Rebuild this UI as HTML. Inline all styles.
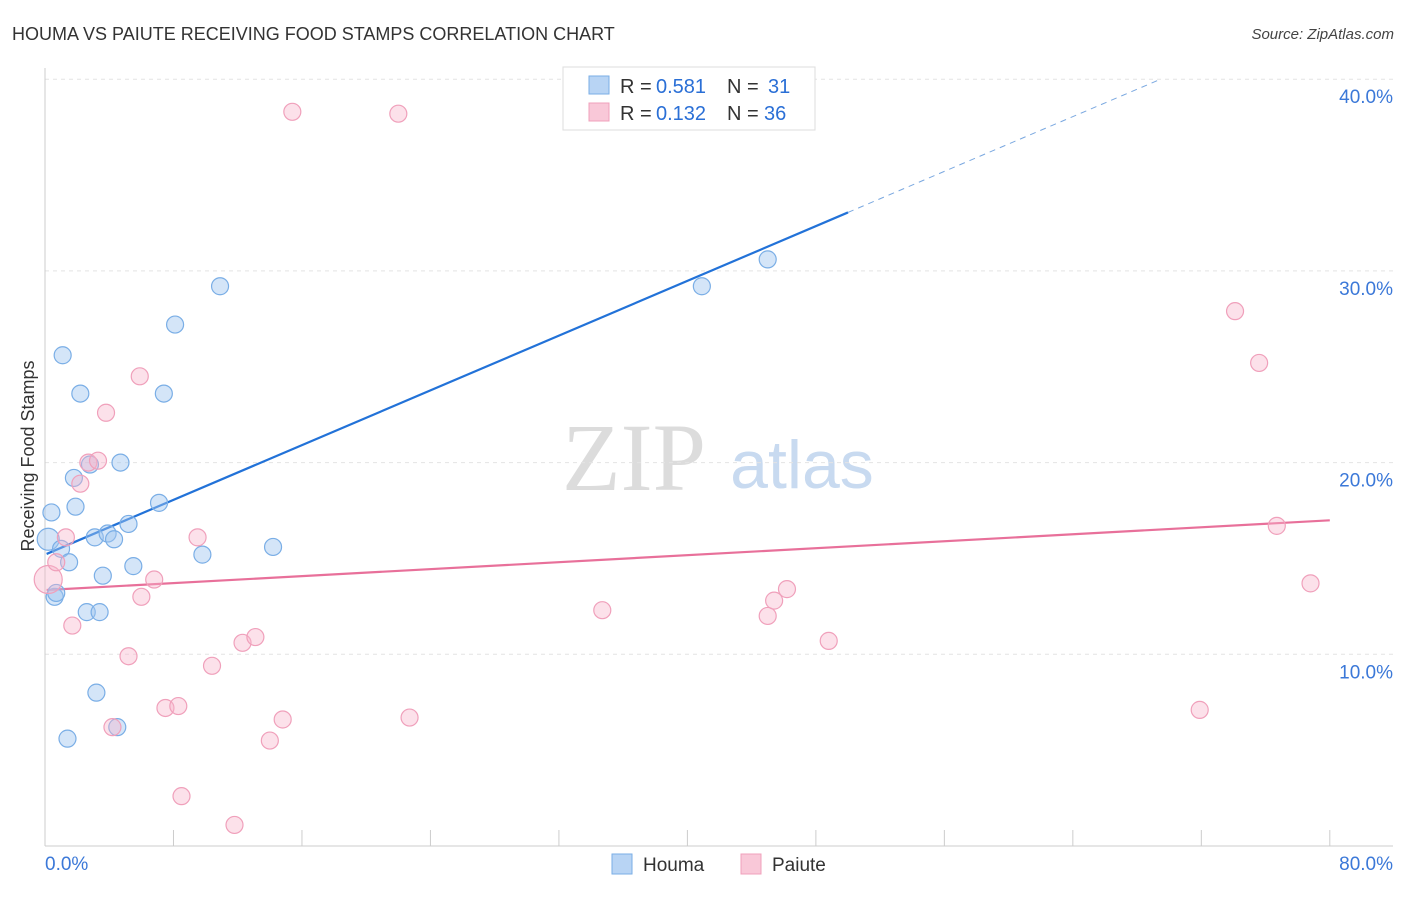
<!DOCTYPE html>
<html><head><meta charset="utf-8"><style>
body{margin:0;background:#fff;font-family:"Liberation Sans",sans-serif}
</style></head><body>
<svg width="1406" height="892" id="chart" font-family="Liberation Sans, sans-serif">
<text x="12" y="40" font-size="18" fill="#333">HOUMA VS PAIUTE RECEIVING FOOD STAMPS CORRELATION CHART</text>
<text x="1394" y="39" font-size="15" fill="#444" font-style="italic" text-anchor="end">Source: ZipAtlas.com</text>
<text x="634" y="490" font-size="96" fill="#dcdcdc" style="font-family:'Liberation Serif',serif" text-anchor="middle">ZIP</text>
<text x="802" y="488" font-size="68" fill="#c8daf0" text-anchor="middle">atlas</text>
<text transform="translate(34,456) rotate(-90)" font-size="18" fill="#333" text-anchor="middle">Receiving Food Stamps</text>
<g id="grid"></g><g id="axes"></g><g id="lines"></g><g id="pts"></g>
<g>
<rect x="563" y="67" width="252" height="63" fill="#fff" stroke="#ddd"/>
<rect x="589" y="76" width="20" height="18" fill="#b8d4f4" stroke="#7aaee6"/>
<rect x="589" y="103" width="20" height="18" fill="#f9c8d8" stroke="#f0a0bb"/>
<text x="620" y="93" font-size="20" fill="#333">R =</text>
<text x="656" y="93" font-size="20" fill="#2a6fd6">0.581</text>
<text x="727" y="93" font-size="20" fill="#333">N =</text>
<text x="768" y="93" font-size="20" fill="#2a6fd6">31</text>
<text x="620" y="120" font-size="20" fill="#333">R =</text>
<text x="656" y="120" font-size="20" fill="#2a6fd6">0.132</text>
<text x="727" y="120" font-size="20" fill="#333">N =</text>
<text x="764" y="120" font-size="20" fill="#2a6fd6">36</text>
</g>
<g>
<rect x="612" y="854" width="20" height="20" fill="#b8d4f4" stroke="#7aaee6"/>
<text x="643" y="871" font-size="19" fill="#333">Houma</text>
<rect x="741" y="854" width="20" height="20" fill="#f9c8d8" stroke="#f0a0bb"/>
<text x="772" y="871" font-size="19" fill="#333">Paiute</text>
</g>
</svg>
<script>
const yTicks=[10,20,30,40];
const yTickLabels=["10.0%","20.0%","30.0%","40.0%"];
const houmaX=[0.2,0.4,1.1,2.2,1.8,1.9,1.0,1.5,0.6,0.7,2.8,4.7,3.1,3.9,4.3,5.2,7.1,7.4,8.1,10.9,3.6,5.5,2.6,3.4,9.8,14.2,3.2,1.4,4.5,40.9,45.0];
const houmaY=[16.0,17.4,25.6,23.6,19.2,17.7,15.5,14.8,13.0,13.2,19.9,20.0,16.1,16.3,16.0,16.8,17.9,23.6,27.2,29.2,14.1,14.6,12.2,12.2,15.2,15.6,8.0,5.6,6.2,29.2,30.6];
const paiuteX=[0.2,0.7,1.3,2.2,2.7,3.3,3.8,5.9,1.7,6.0,6.8,5.2,4.2,7.5,8.3,8.5,9.5,10.4,11.8,12.3,13.1,14.0,14.8,15.4,22.0,22.7,34.7,45.0,45.4,46.2,48.8,74.1,75.6,76.7,78.8,71.9];
const paiuteY=[13.9,14.8,16.1,18.9,20.0,20.1,22.6,24.5,11.5,13.0,13.9,9.9,6.2,7.2,7.3,2.6,16.1,9.4,1.1,10.6,10.9,5.5,6.6,38.3,38.2,6.7,12.3,12.0,12.8,13.4,10.7,27.9,25.2,16.7,13.7,7.1];
const houmaFit=[15.2,0.357];
const paiuteFit=[13.35,0.0455];
const NS="http://www.w3.org/2000/svg";
const sx=v=>45+v*16.06, sy=v=>846-v*19.17;
function mk(p,t,a){const e=document.createElementNS(NS,t);for(const k in a)e.setAttribute(k,a[k]);document.getElementById(p).appendChild(e);return e;}
yTicks.forEach((t,i)=>{
 const g=mk('grid','line',{x1:45,x2:1393,y1:sy(t),y2:sy(t),stroke:'#e4e4e4','stroke-dasharray':'4,4'});
 
 
 const l=mk('grid','text',{x:1393,y:sy(t)+24,'font-size':19,fill:'#3b78d8','text-anchor':'end'});
 l.textContent=yTickLabels[i];
 
 
});
const a1=mk('axes','line',{x1:45,x2:45,y1:68,y2:846,stroke:'#ccc'});


const a2=mk('axes','line',{x1:45,x2:1393,y1:846,y2:846,stroke:'#ccc'});


for(let v=0;v<=80;v+=8){
 const t=mk('axes','line',{x1:sx(v),x2:sx(v),y1:830,y2:846,stroke:'#ccc'});
 
 
}
[[0,"0.0%","start",45],[80,"80.0%","end",1393]].forEach(d=>{
 const l=mk('axes','text',{x:d[3],y:870,'font-size':19,fill:'#3b78d8','text-anchor':d[2]});
 l.textContent=d[1];
 
 
});
const fy=(f,x)=>f[0]+f[1]*x;
let ln=mk('lines','line',{x1:sx(0.1),y1:sy(fy(houmaFit,0.1)),x2:sx(50),y2:sy(fy(houmaFit,50)),stroke:'#2272d8','stroke-width':2.2});


ln=mk('lines','line',{x1:sx(50),y1:sy(fy(houmaFit,50)),x2:sx(69.5),y2:sy(fy(houmaFit,69.5)),stroke:'#7aa8e0','stroke-width':1,'stroke-dasharray':'6,5'});


ln=mk('lines','line',{x1:sx(0.1),y1:sy(fy(paiuteFit,0.1)),x2:sx(80),y2:sy(fy(paiuteFit,80)),stroke:'#e8709a','stroke-width':2.2});


houmaX.forEach((x,i)=>{
 const c=mk('pts','circle',{cx:sx(x),cy:sy(houmaY[i]),r:i==0?11:8.5,fill:'rgba(160,198,240,0.45)',stroke:'#7aaee6','stroke-width':1.2});
 
 
});
paiuteX.forEach((x,i)=>{
 const c=mk('pts','circle',{cx:sx(x),cy:sy(paiuteY[i]),r:i==0?14:8.5,fill:'rgba(248,180,202,0.4)',stroke:'#f0a0bb','stroke-width':1.2});
 
 
});
</script>
</body></html>
